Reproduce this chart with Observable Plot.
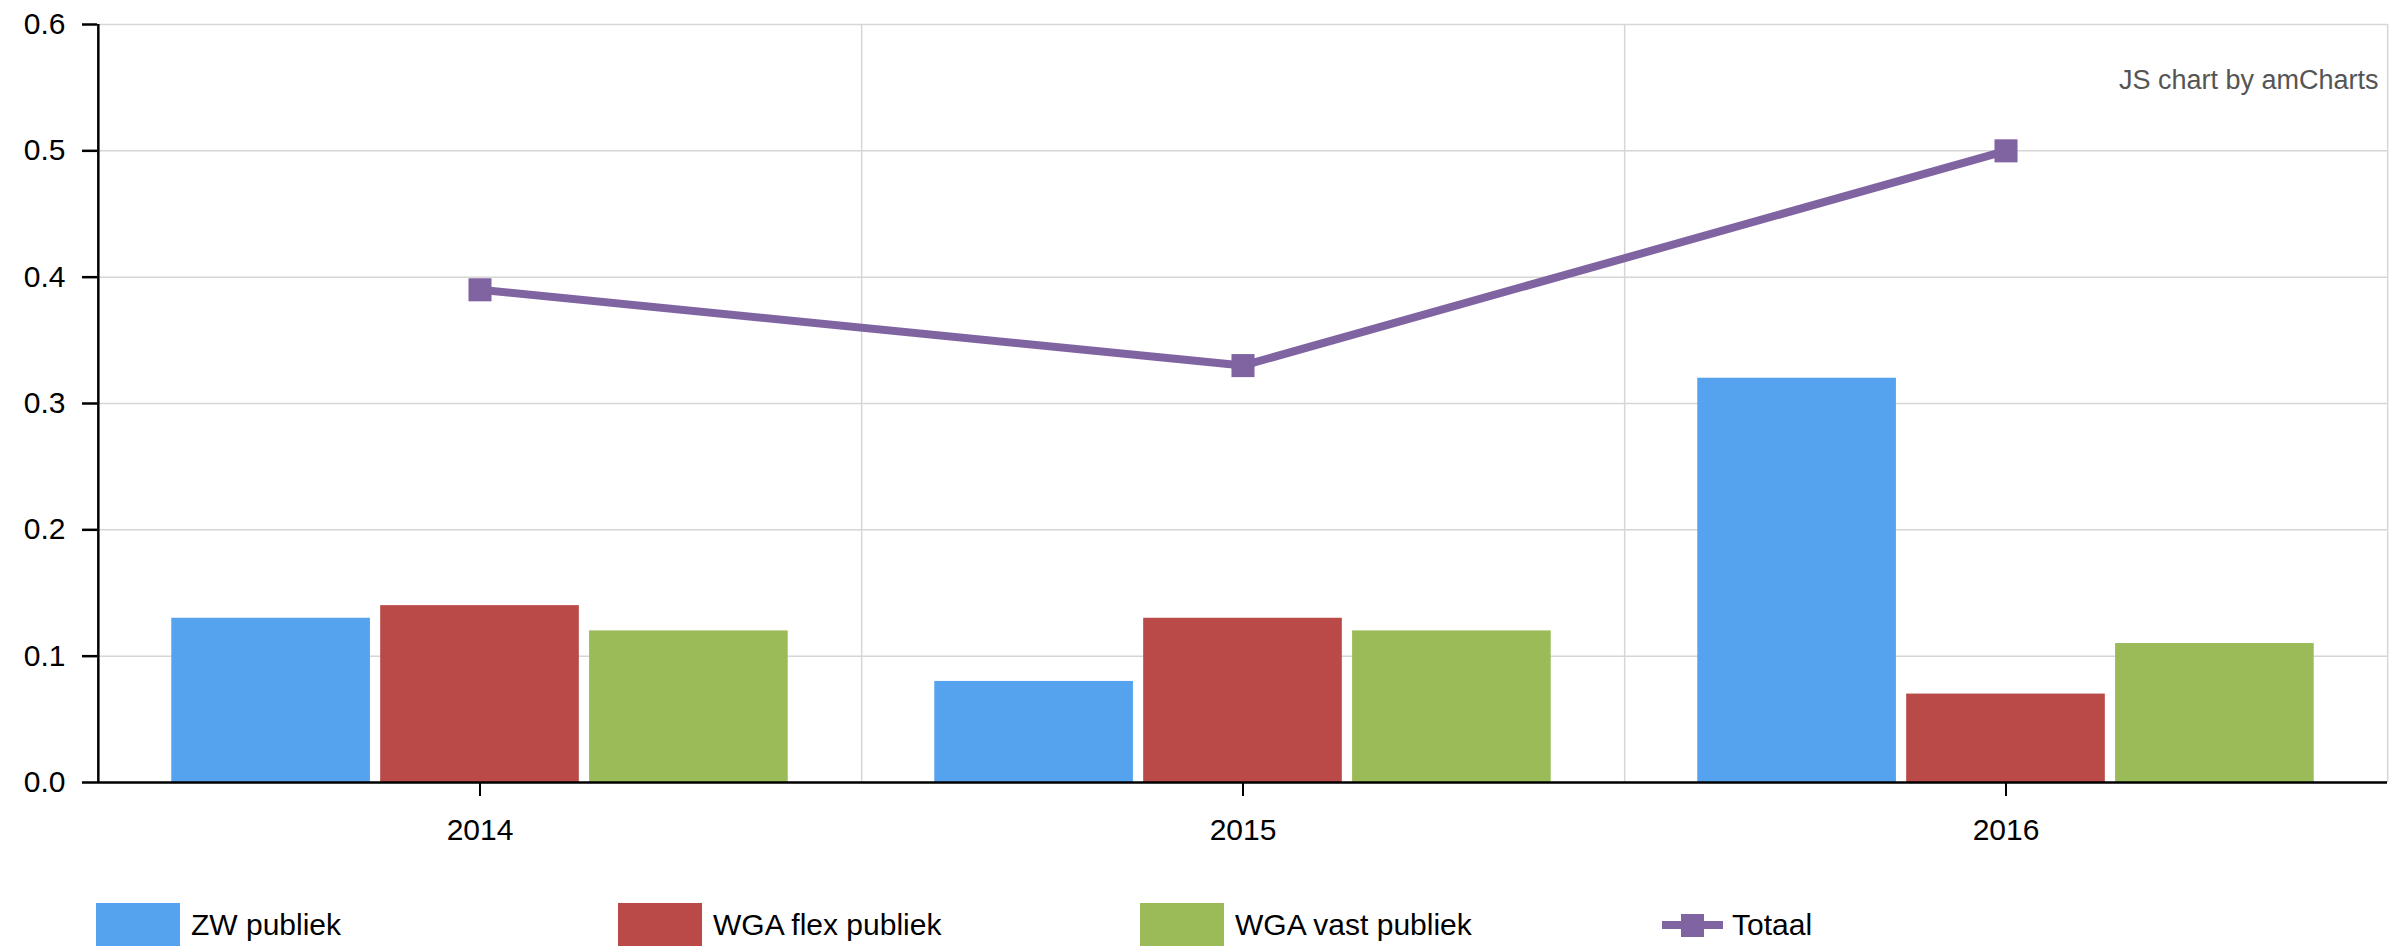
<!DOCTYPE html>
<html>
<head>
<meta charset="utf-8">
<script src="https://cdn.jsdelivr.net/npm/d3@7"></script>
<script src="https://cdn.jsdelivr.net/npm/@observablehq/plot@0.6"></script>
<style>
  html, body { margin: 0; padding: 0; background: #fff; }
  #wrap { position: relative; width: 2396px; height: 946px; overflow: hidden; font-family: 'Liberation Sans', Arial, sans-serif; }
  #legend { position: absolute; left: 96px; top: 903px; display: flex; }
  .item { width: 522px; height: 44px; display: flex; align-items: center; font-size: 30px; color: #000; }
  .sw { width: 84px; height: 44px; margin-right: 11px; }
</style>
</head>
<body>
<div id="wrap">
  <div id="chart"></div>
  <div id="legend"></div>
</div>
<script>
const years = ["2014", "2015", "2016"];
const seriesNames = ["ZW publiek", "WGA flex publiek", "WGA vast publiek"];
const zwPubliek = [0.13, 0.08, 0.32];
const wgaFlexPubliek = [0.14, 0.13, 0.07];
const wgaVastPubliek = [0.12, 0.12, 0.11];
const totaal = [0.39, 0.33, 0.50];
const lineName = "Totaal";
const yTicks = [0, 0.1, 0.2, 0.3, 0.4, 0.5, 0.6];
const barColors = ["#55a3ee", "#b94a48", "#9bbb59"];
const lineColor = "#8064a2";

const seriesValues = [zwPubliek, wgaFlexPubliek, wgaVastPubliek];

const W = 2396, H = 895, mL = 97, mR = 9, mT = 24, mB = 113;
const bw = (W - mL - mR) / years.length;
const outer = 0.096 * bw, gap = 0.013 * bw;
const barW = (bw - 2 * outer - 2 * gap) / 3;

const barMarks = seriesValues.map((vals, i) => {
  const left = outer + i * (barW + gap);
  return Plot.barY(years.map((y, j) => ({year: y, value: vals[j]})), {
    x: "year", y: "value", fill: barColors[i],
    insetLeft: left, insetRight: bw - left - barW
  });
});

const totalData = years.map((y, j) => ({year: y, value: totaal[j]}));

const chart = Plot.plot({
  width: W, height: H,
  marginLeft: mL, marginRight: mR, marginTop: mT, marginBottom: mB,
  style: {fontSize: "30px", fontFamily: "'Liberation Sans', Arial, sans-serif", color: "#000", background: "#fff"},
  x: {type: "band", domain: years, padding: 0},
  y: {domain: [0, 0.6]},
  marks: [
    Plot.gridY(yTicks, {stroke: "#d6d6d6", strokeOpacity: 1, strokeWidth: 1.5}),
    Plot.ruleX(years, {x: d => d, dx: bw / 2, stroke: "#d6d6d6", strokeWidth: 1.5}),
    ...barMarks,
    Plot.ruleY([0], {stroke: "#000", strokeWidth: 2.5}),
    Plot.ruleX([years[0]], {x: d => d, dx: -bw / 2, y1: 0, y2: 0.6, stroke: "#000", strokeWidth: 2.5}),
    Plot.line(totalData, {x: "year", y: "value", stroke: lineColor, strokeWidth: 8}),
    Plot.dot(totalData, {x: "year", y: "value", symbol: "square", r: 13, fill: lineColor}),
    Plot.text(["JS chart by amCharts"], {frameAnchor: "top-right", dx: -9, dy: 45, fill: "#555", fontSize: 27, textAnchor: "end"}),
    Plot.axisY({ticks: yTicks, tickFormat: d3.format(".1f"), tickSize: 15, tickPadding: 17, label: null, stroke: "#000", strokeWidth: 2.5, fontSize: 30}),
    Plot.axisX({tickSize: 14, tickPadding: 22, label: null, strokeWidth: 2, fontSize: 30})
  ]
});
document.getElementById("chart").appendChild(chart);

const legend = document.getElementById("legend");
seriesNames.forEach((name, i) => {
  const it = document.createElement("div");
  it.className = "item";
  it.innerHTML = `<div class="sw" style="background:${barColors[i]}"></div><span>${name}</span>`;
  legend.appendChild(it);
});
const lt = document.createElement("div");
lt.className = "item";
lt.innerHTML = `<svg width="61" height="44" style="margin-right:9px"><line x1="0" x2="61" y1="22" y2="22" stroke="${lineColor}" stroke-width="8"/><rect x="19" y="11" width="23" height="23" fill="${lineColor}"/></svg><span>${lineName}</span>`;
legend.appendChild(lt);
</script>
</body>
</html>
